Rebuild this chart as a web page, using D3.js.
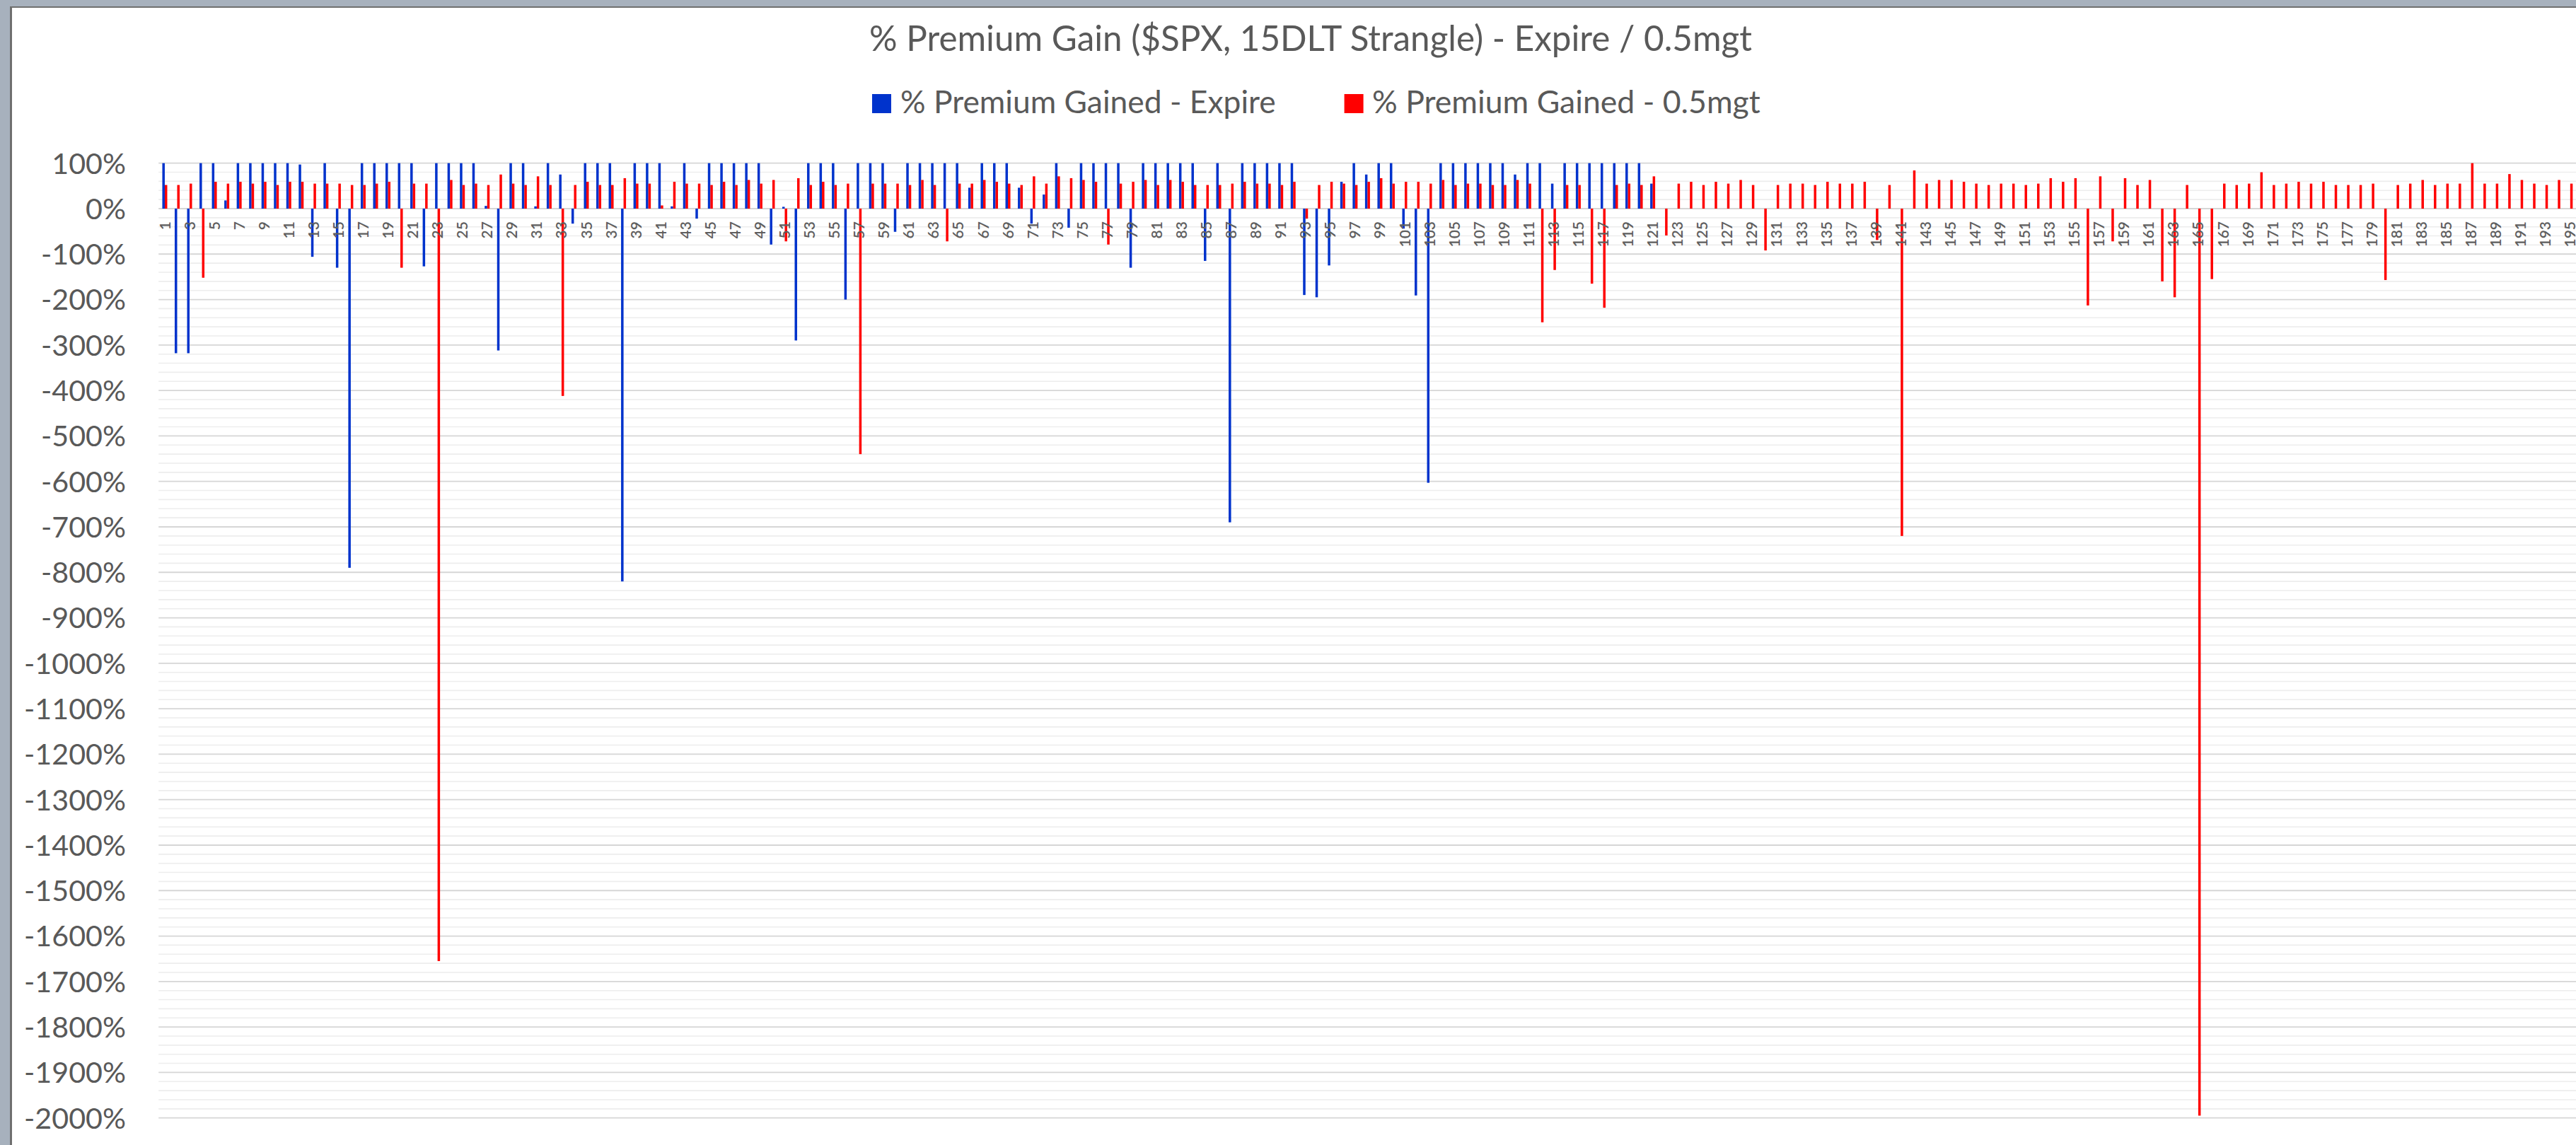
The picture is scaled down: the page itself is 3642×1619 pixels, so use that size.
<!DOCTYPE html>
<html>
<head>
<meta charset="utf-8">
<script src="https://cdn.jsdelivr.net/npm/d3@7"></script>
<style>
  html, body { margin: 0; padding: 0; background: #A7B1BD; }
  svg { display: block; }
  text { font-family: Lato, "Open Sans", sans-serif; }
</style>
</head>
<body>
<svg id="chart" width="3642" height="1619"></svg>
<script>
// ---------------- DATA ----------------
const title = "% Premium Gain ($SPX, 15DLT Strangle) - Expire / 0.5mgt";
const seriesNames = ["% Premium Gained - Expire", "% Premium Gained - 0.5mgt"];
const categories = d3.range(1, 196).map(String);   // 1 .. 195 (visible part)

// % Premium Gained - Expire (categories 1..121)
const expireValues = [
  100, -318, -318, 100, 100, 18, 100, 100, 100, 100,
  100, 97, -106, 100, -130, -790, 100, 100, 100, 100,
  100, -127, 100, 100, 100, 100, 6, -312, 100, 100,
  5, 100, 75, -33, 100, 100, 100, -820, 100, 100,
  100, 5, 100, -22, 100, 100, 100, 100, 100, -79,
  4, -290, 100, 100, 100, -200, 100, 100, 100, -51,
  100, 100, 100, 100, 100, 46, 100, 100, 100, 46,
  -33, 31, 100, -42, 100, 100, 100, 100, -130, 100,
  100, 100, 100, 100, -115, 100, -690, 100, 100, 100,
  100, 100, -190, -195, -125, 59, 100, 75, 100, 100,
  -44, -191, -603, 100, 100, 100, 100, 100, 100, 75,
  100, 100, 55, 100, 100, 100, 100, 100, 100, 100,
  55
];

// % Premium Gained - 0.5mgt (categories 1..195)
const mgtValues = [
  52, 52, 55, -152, 59, 55, 59, 55, 59, 52,
  59, 59, 55, 55, 55, 52, 52, 55, 59, -130,
  55, 55, -1655, 63, 52, 55, 52, 75, 55, 52,
  71, 52, -412, 52, 59, 52, 52, 67, 55, 55,
  7, 59, 55, 55, 52, 59, 52, 63, 55, 63,
  -72, 67, 52, 59, 52, 55, -540, 55, 55, 55,
  52, 63, 52, -72, 55, 55, 63, 59, 55, 52,
  71, 55, 71, 67, 63, 59, -79, 55, 59, 63,
  52, 63, 59, 52, 52, 52, 55, 59, 55, 55,
  52, 59, -22, 52, 59, 55, 52, 59, 67, 55,
  59, 59, 55, 63, 52, 55, 55, 52, 52, 63,
  55, -250, -135, 52, 52, -165, -218, 52, 55, 52,
  71, -59, 55, 59, 52, 59, 55, 63, 52, -92,
  52, 55, 55, 52, 59, 55, 55, 59, -69, 52,
  -720, 84, 55, 63, 63, 59, 55, 52, 55, 55,
  52, 55, 67, 59, 67, -213, 71, -72, 67, 52,
  63, -160, -195, 52, -1995, -155, 55, 52, 55, 80,
  52, 55, 59, 55, 59, 52, 52, 52, 55, -157,
  52, 55, 63, 52, 55, 55, 100, 55, 55, 76,
  63, 55, 52, 63, 55
];

const yTicks = d3.range(100, -2001, -100);

// ---------------- LAYOUT ----------------
const W = 3642, H = 1619;
const colors = { expire: "#0033CC", mgt: "#FF0000" };
const textColor = "#595959";
const svg = d3.select("#chart");

// frame: grey window border + white chart area
svg.append("rect").attr("x", 0).attr("y", 0).attr("width", W).attr("height", H).attr("fill", "#A7B1BD");
svg.append("rect").attr("x", 14).attr("y", 9).attr("width", W - 14).attr("height", H - 9).attr("fill", "#6F6F6F");
svg.append("rect").attr("x", 17).attr("y", 11).attr("width", W - 17).attr("height", H - 11).attr("fill", "#FFFFFF");

const plotLeft = 224.2, plotRight = 3642.6;
const x = d3.scaleBand().domain(categories).range([plotLeft, plotRight]).paddingInner(0).paddingOuter(0);
const y = d3.scaleLinear().domain([-2000, 100]).range([1580.7, 230.7]);
const barW = 3.5;

// gridlines (minor every 20%, major every 100%)
const minor = d3.range(-2000, 101, 20).filter(v => v % 100 !== 0);
svg.append("g").selectAll("line").data(minor).join("line")
  .attr("x1", plotLeft).attr("x2", W).attr("y1", d => y(d)).attr("y2", d => y(d))
  .attr("stroke", "#EDEDED").attr("stroke-width", 1.6);
svg.append("g").selectAll("line").data(yTicks).join("line")
  .attr("x1", plotLeft).attr("x2", W).attr("y1", d => y(d)).attr("y2", d => y(d))
  .attr("stroke", "#D6D6D6").attr("stroke-width", 1.8);

// bars
const cx = c => x(c) + x.bandwidth() / 2;
const expireData = expireValues.map((v, i) => ({ c: categories[i], v }));
const mgtData = mgtValues.map((v, i) => ({ c: categories[i], v }));

svg.append("g").selectAll("rect").data(expireData).join("rect")
  .attr("x", d => cx(d.c) - barW)
  .attr("width", barW)
  .attr("y", d => Math.min(y(d.v), y(0)))
  .attr("height", d => Math.abs(y(d.v) - y(0)))
  .attr("fill", colors.expire);

svg.append("g").selectAll("rect").data(mgtData).join("rect")
  .attr("x", d => cx(d.c))
  .attr("width", barW)
  .attr("y", d => Math.min(y(d.v), y(0)))
  .attr("height", d => Math.abs(y(d.v) - y(0)))
  .attr("fill", colors.mgt);

// y axis labels
const yLab = svg.append("g").selectAll("text").data(yTicks).join("text")
  .attr("x", 178).attr("y", d => y(d))
  .attr("text-anchor", "end").attr("dy", "0.36em")
  .attr("fill", textColor).attr("font-size", 40)
  .text(d => d + "%");
// fit label size to the reference width of "-2000%"
(function () {
  const n = yLab.filter(d => d === -2000).node();
  const w = n.getComputedTextLength();
  yLab.attr("font-size", 40 * 144 / w);
})();

// x axis labels (odd categories, rotated)
svg.append("g").selectAll("text").data(categories.filter((c, i) => i % 2 === 0)).join("text")
  .attr("transform", d => `translate(${cx(d)},313) rotate(-90)`)
  .attr("text-anchor", "end").attr("dy", "0.36em")
  .attr("fill", "#5f5f5f").attr("font-size", 21).attr("font-weight", 600)
  .text(d => d);

// helper to fit text width
function fit(sel, target) {
  const fs = parseFloat(sel.attr("font-size"));
  const w = sel.node().getComputedTextLength();
  sel.attr("font-size", fs * target / w);
  return sel;
}

// title
const t = svg.append("text").attr("x", 1853).attr("y", 72)
  .attr("text-anchor", "middle").attr("fill", textColor).attr("font-size", 46)
  .text(title);
fit(t, 1248);

// legend
const legend = [
  { name: seriesNames[0], color: colors.expire, sx: 1233, tx: 1273, tw: 531 },
  { name: seriesNames[1], color: colors.mgt, sx: 1900.6, tx: 1940, tw: 549 }
];
legend.forEach(l => {
  svg.append("rect").attr("x", l.sx).attr("y", 133).attr("width", 27).attr("height", 27).attr("fill", l.color);
  const lt = svg.append("text").attr("x", l.tx).attr("y", 160)
    .attr("fill", textColor).attr("font-size", 40).text(l.name);
  fit(lt, l.tw);
});
</script>
</body>
</html>
